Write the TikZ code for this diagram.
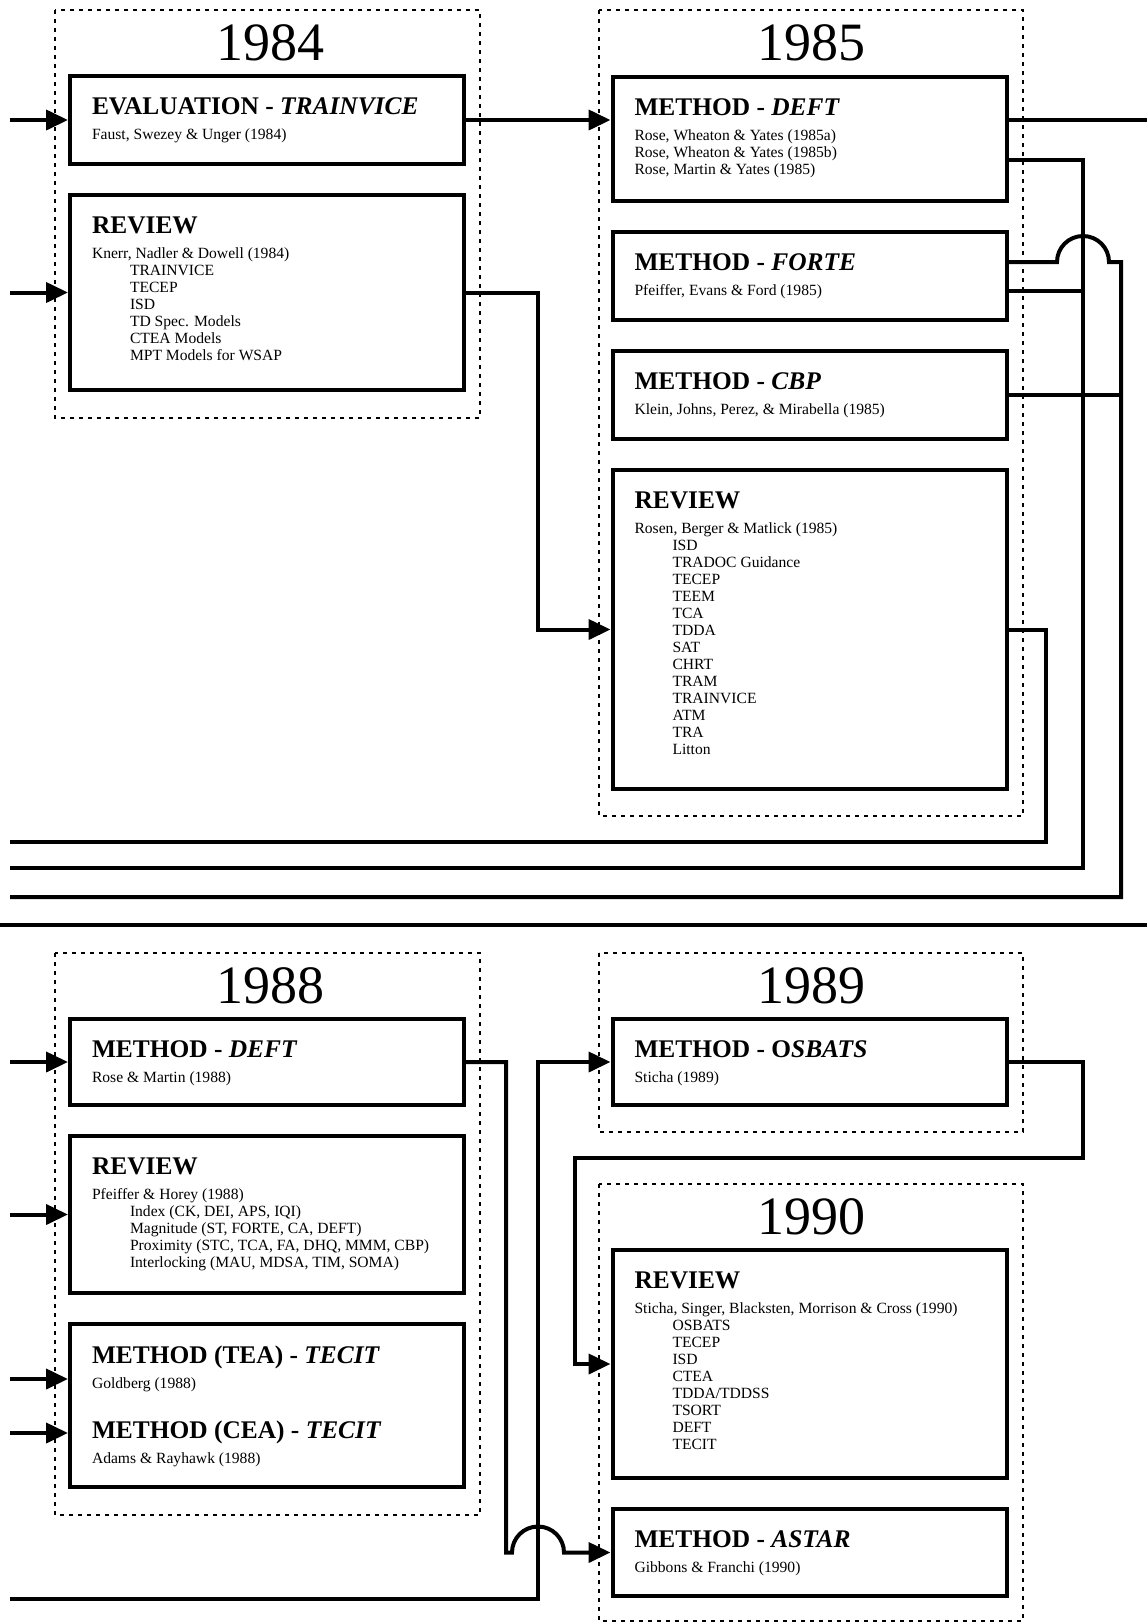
\documentclass[tikz,border=0pt]{standalone}
\usepackage{fontspec}
\setmainfont{Liberation Serif}
\usepackage{tikz}
\usetikzlibrary{arrows.meta,positioning,calc}

\newcommand{\cardfont}{\fontsize{7.8}{8.5}\selectfont\lineskiplimit=-100pt\relax}
\newcommand{\head}[1]{{\fontsize{12.7}{14}\selectfont\bfseries #1}\\[4pt]}
\newcommand{\itm}[1]{\\\hspace*{19pt}#1}
\newcommand{\card}[2]{\parbox[c][#1][t]{175pt}{\cardfont #2}}

\tikzset{
    card/.style={draw, line width=2pt, inner xsep=11pt, inner ysep=11pt, align=left},
    yearlbl/.style={font=\fontsize{27}{30}\selectfont, inner sep=0pt},
    yearbox/.style={line width=0.9pt, dash pattern=on 2pt off 2.5pt},
    link/.style={line width=2pt},
    flow/.style={line width=2pt, -{Triangle[length=11pt,width=10pt]}},
    divider/.style={line width=2.2pt},
}

\begin{document}
\begin{tikzpicture}[x=0.5pt, y=0.5pt, node distance=13.5pt]
    \useasboundingbox (0,0) rectangle (1147,-1624);

    % page edges and bus lines
    \coordinate (ledge) at (10,0);
    \coordinate (redge) at (1147,0);
    \coordinate (busA) at (1083,-868);
    \coordinate (busB) at (1121,-897);
    \coordinate (busC) at (1046,-842);
    \coordinate (feed) at (538,-1599);
    \coordinate (loopR) at (1083,-1158);
    \coordinate (loopL) at (575,-1158);

    % 1984
    \draw[yearbox] (55,-10) rectangle (480,-418);
    \node[yearlbl] (y84) at (270,-42.5) {1984};
    \node[card, anchor=north] (eval84) at (267,-74)
        {\card{22pt}{\head{EVALUATION - \textit{TRAINVICE}}Faust, Swezey \& Unger (1984)}};
    \node[card, below=of eval84] (rev84)
        {\card{75.5pt}{\head{REVIEW}Knerr, Nadler \& Dowell (1984)\itm{TRAINVICE}\itm{TECEP}\itm{ISD}\itm{TD Spec. Models}\itm{CTEA Models}\itm{MPT Models for WSAP}}};

    % 1985
    \draw[yearbox] (599,-10) rectangle (1023,-816);
    \node[yearlbl] (y85) at (811,-42.5) {1985};
    \node[card, anchor=north] (deft85) at (809.5,-75)
        {\card{40pt}{\head{METHOD - \textit{DEFT}}Rose, Wheaton \& Yates (1985a)\\Rose, Wheaton \& Yates (1985b)\\Rose, Martin \& Yates (1985)}};
    \node[card, below=of deft85] (forte85)
        {\card{22pt}{\head{METHOD - \textit{FORTE}}Pfeiffer, Evans \& Ford (1985)}};
    \node[card, below=of forte85] (cbp85)
        {\card{22pt}{\head{METHOD - \textit{CBP}}Klein, Johns, Perez, \& Mirabella (1985)}};
    \node[card, below=of cbp85] (rev85)
        {\card{137.5pt}{\head{REVIEW}Rosen, Berger \& Matlick (1985)\itm{ISD}\itm{TRADOC Guidance}\itm{TECEP}\itm{TEEM}\itm{TCA}\itm{TDDA}\itm{SAT}\itm{CHRT}\itm{TRAM}\itm{TRAINVICE}\itm{ATM}\itm{TRA}\itm{Litton}}};

    \draw[flow] (ledge |- eval84.west) -- (eval84.west);
    \draw[flow] (ledge |- rev84.west) -- (rev84.west);
    \draw[flow] (eval84.east) -- (eval84.east -| deft85.west);
    \draw[flow] (rev84.east) -- ++(72,0) |- (rev85.west);
    \draw[link] (deft85.east |- eval84.east) -- (redge |- eval84.east);
    \draw[link] ($(deft85.east)+(0,-21)$) -| (busA) -- (ledge |- busA);
    \draw[link] ($(forte85.east)+(0,14)$) -- ($(forte85.east -| busA)+(-26,14)$)
        arc[start angle=180, end angle=0, radius=13pt] -| (busB) -- (ledge |- busB);
    \draw[link] ($(forte85.east)+(0,-15)$) -- ($(forte85.east -| busA)+(0,-15)$);
    \draw[link] (cbp85.east) -- (cbp85.east -| busB);
    \draw[link] (rev85.east) -| (busC) -- (ledge |- busC);

    \draw[divider] (0,-925) -- (1147,-925);

    % 1988
    \draw[yearbox] (55,-953) rectangle (480,-1515);
    \node[yearlbl] (y88) at (270,-986) {1988};
    \node[card, anchor=north] (deft88) at (267,-1017)
        {\card{21pt}{\head{METHOD - \textit{DEFT}}Rose \& Martin (1988)}};
    \node[card, below=of deft88] (rev88)
        {\card{56.5pt}{\head{REVIEW}Pfeiffer \& Horey (1988)\itm{Index (CK, DEI, APS, IQI)}\itm{Magnitude (ST, FORTE, CA, DEFT)}\itm{Proximity (STC, TCA, FA, DHQ, MMM, CBP)}\itm{Interlocking (MAU, MDSA, TIM, SOMA)}}};
    \node[card, below=of rev88] (tecit88)
        {\card{59.5pt}{\head{METHOD (TEA) - \textit{TECIT}}Goldberg (1988)\\[16.5pt]\head{METHOD (CEA) - \textit{TECIT}}Adams \& Rayhawk (1988)}};
    \coordinate (tea) at ($(tecit88.north west)+(0,-57)$);
    \coordinate (cea) at ($(tecit88.north west)+(0,-111)$);

    % 1989
    \draw[yearbox] (599,-953) rectangle (1023,-1132);
    \node[yearlbl] (y89) at (811,-986) {1989};
    \node[card, anchor=north] (osbats) at (809.5,-1017)
        {\card{21pt}{\head{METHOD - O\textit{SBATS}}Sticha (1989)}};

    % 1990
    \draw[yearbox] (599,-1184) rectangle (1023,-1621);
    \node[yearlbl] (y90) at (811,-1217) {1990};
    \node[card, anchor=north] (rev90) at (809.5,-1248)
        {\card{92pt}{\head{REVIEW}Sticha, Singer, Blacksten, Morrison \& Cross (1990)\itm{OSBATS}\itm{TECEP}\itm{ISD}\itm{CTEA}\itm{TDDA/TDDSS}\itm{TSORT}\itm{DEFT}\itm{TECIT}}};
    \node[card, below=of rev90] (astar)
        {\card{21.5pt}{\head{METHOD - \textit{ASTAR}}Gibbons \& Franchi (1990)}};

    \draw[flow] (ledge |- deft88.west) -- (deft88.west);
    \draw[flow] (ledge |- rev88.west) -- (rev88.west);
    \draw[flow] (ledge |- tea) -- (tea);
    \draw[flow] (ledge |- cea) -- (cea);
    \draw[flow] (ledge |- feed) -- (feed) |- (osbats.west);
    \draw[flow] (osbats.east) -| (loopR) -- (loopL) |- (rev90.west);
    \draw[flow] (deft88.east) -- ++(40,0) |- ($(feed |- astar.west)+(-26,0)$)
        arc[start angle=180, end angle=0, radius=13pt] -- (astar.west);
\end{tikzpicture}
\end{document}
